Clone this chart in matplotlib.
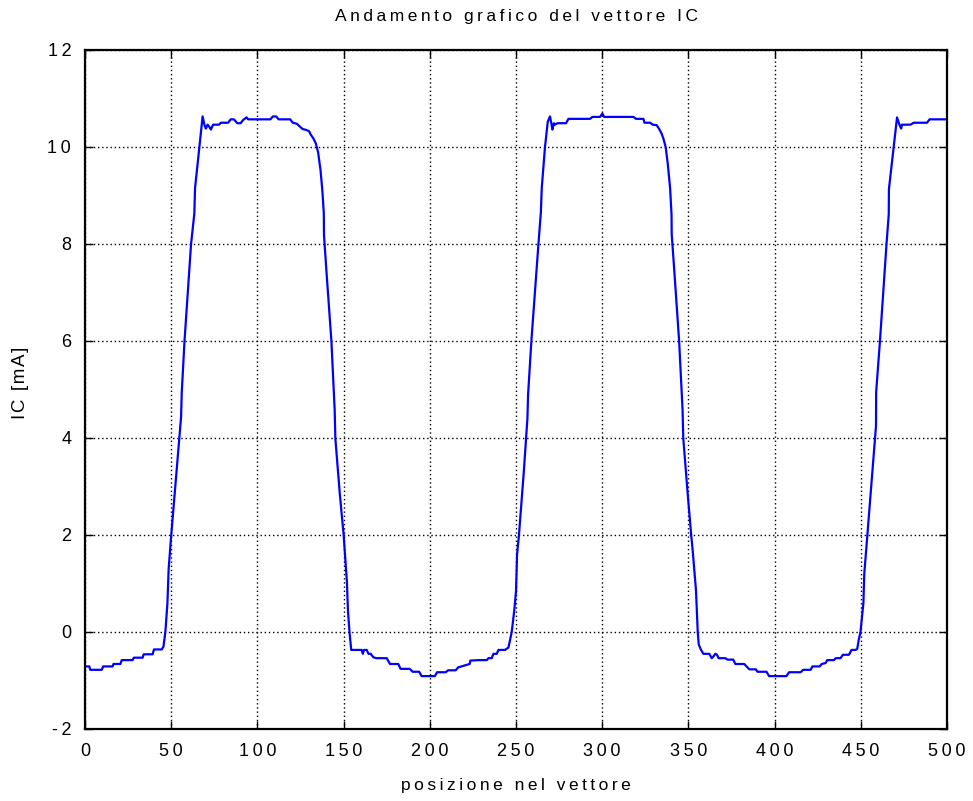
import matplotlib
matplotlib.use("Agg")
import matplotlib.pyplot as plt
from matplotlib.ticker import FixedLocator, FixedFormatter

plt.rcParams['font.family'] = ['Liberation Sans', 'DejaVu Sans']

# posizione nel vettore / IC [mA]
pos = [0, 2.5, 3, 9.7, 10.5, 16, 16.5, 20.5, 21.3, 27.6, 28.3, 33.4, 34, 39.2, 40, 44.5,
       45.5, 46.6, 47.8, 48.5, 50, 52.9, 55.7, 56.1, 57.7, 61.5, 63.4, 63.8, 66.3, 68.2,
       69.3, 70.1, 71.1, 72, 73, 74.3, 77.8, 78.7, 83, 84.5, 86.4, 88.3, 90.2, 91.8, 93.7,
       94.6, 107.5, 109, 110.9, 112.3, 119, 120.5, 122.8, 124.7, 126.2, 128.5, 130.1, 130.8,
       132.4, 133.9, 135.2, 136.6, 137.7, 138.5, 138.6, 140, 142.9, 144.8, 145.2, 147.7, 150,
       151.9, 152.5, 153.4, 154.4, 160.5, 161.1, 161.8, 163.4, 164.4, 165.7, 167.2, 168.8,
       175, 176.9, 181.7, 183, 188.4, 190, 193.8, 195.2, 202.9, 204.2, 209.2, 210.6, 215,
       216.4, 220.2, 223.1, 223.5, 228.5, 233, 234, 235.9, 236.9, 238.8, 239.8, 243.6,
       245.6, 247.5, 249, 250, 250.6, 251.7, 254.5, 256.6, 257, 258.9, 263, 264.4, 264.9,
       266.8, 268.4, 269.7, 270.7, 271.1, 272, 272.6, 274, 279, 280.4, 292.9, 294.3, 298.7,
       300.1, 301.1, 318.1, 319.6, 323.9, 324.5, 327.8, 329.3, 331.6, 333.2, 334.5, 335.5,
       336.8, 338, 339.4, 340.2, 340.3, 341.8, 344.6, 346.6, 347, 349.5, 351.6, 352.5, 354.4,
       355.4, 356, 357.3, 358.7, 362.1, 363.5, 364.6, 365.6, 366.6, 367.5, 371.4, 372.7, 376,
       377.2, 382.4, 383.7, 385.3, 389.1, 390.1, 395.3, 396.8, 406.8, 408.4, 415.1, 416.5,
       420.9, 421.9, 426.1, 427.3, 429.6, 430.5, 434.4, 435.4, 438.2, 439.6, 443.1, 444.6,
       446.9, 447.9, 448.8, 449.8, 451.5, 452, 453.8, 458.2, 458.8, 458.9, 461.1, 464.9,
       466.2, 466.3, 469.1, 471, 472.4, 473.4, 473.9, 478.8, 480.7, 488.4, 489.9, 500]
ic = [-0.71, -0.71, -0.78, -0.78, -0.71, -0.71, -0.66, -0.66, -0.58, -0.58, -0.53, -0.53,
      -0.46, -0.46, -0.36, -0.36, -0.3, 0, 0.6, 1.3, 2, 3.25, 4.43, 4.94, 6, 8, 8.63, 9.15,
      10, 10.63, 10.45, 10.38, 10.46, 10.42, 10.36, 10.46, 10.46, 10.5, 10.5, 10.57, 10.57,
      10.49, 10.49, 10.56, 10.61, 10.57, 10.57, 10.63, 10.63, 10.57, 10.57, 10.5, 10.48,
      10.42, 10.37, 10.35, 10.32, 10.26, 10.18, 10.07, 9.89, 9.52, 9.08, 8.63, 8.19, 7.45,
      6, 4.58, 3.99, 2.88, 2, 1.03, 0.44, 0, -0.37, -0.37, -0.45, -0.37, -0.37, -0.45, -0.45,
      -0.52, -0.54, -0.54, -0.66, -0.66, -0.76, -0.76, -0.82, -0.82, -0.91, -0.91, -0.83,
      -0.83, -0.79, -0.79, -0.73, -0.69, -0.66, -0.59, -0.58, -0.58, -0.54, -0.54, -0.45,
      -0.45, -0.37, -0.37, -0.32, 0, 0.45, 0.85, 1.6, 2.0, 3.3, 4.4, 4.9, 6.0, 8.0, 8.65,
      9.14, 10, 10.52, 10.63, 10.45, 10.36, 10.49, 10.46, 10.49, 10.49, 10.58, 10.58, 10.62,
      10.62, 10.69, 10.62, 10.62, 10.58, 10.58, 10.5, 10.5, 10.46, 10.45, 10.36, 10.27,
      10.17, 10, 9.66, 9.14, 8.6, 8.2, 7.45, 6, 4.58, 4, 2.88, 2, 1.67, 0.85, 0, -0.26,
      -0.37, -0.45, -0.45, -0.54, -0.5, -0.45, -0.47, -0.54, -0.54, -0.57, -0.57, -0.66,
      -0.66, -0.71, -0.77, -0.77, -0.82, -0.82, -0.91, -0.91, -0.83, -0.83, -0.78, -0.78,
      -0.71, -0.71, -0.66, -0.64, -0.58, -0.58, -0.54, -0.54, -0.47, -0.47, -0.37, -0.37,
      -0.35, -0.16, 0, 0.6, 1.2, 2, 4, 4.25, 4.95, 6, 8, 8.61, 9.13, 10, 10.61,
      10.46, 10.38, 10.46, 10.46, 10.5, 10.5, 10.57, 10.57]

xticks = [0, 50, 100, 150, 200, 250, 300, 350, 400, 450, 500]
yticks = [-2, 0, 2, 4, 6, 8, 10, 12]


def spaced(s, sep='\u2009'):
    # lettere un po' distanziate come nell'originale
    return sep.join(s)


fig = plt.figure(figsize=(9.73, 8.01), dpi=100)
ax = fig.add_axes([0.0874, 0.0899, 0.8859, 0.8477])

ax.plot(pos, ic, color='#0000ff', lw=1.6)

ax.set_xlim(0, 500)
ax.set_ylim(-2, 12)
ax.xaxis.set_major_locator(FixedLocator(xticks))
ax.xaxis.set_major_formatter(FixedFormatter([spaced(str(t)) for t in xticks]))
ax.yaxis.set_major_locator(FixedLocator(yticks))
ax.yaxis.set_major_formatter(FixedFormatter([spaced(str(t)) for t in yticks]))

ax.grid(True, color='black', linestyle=(0, (1, 2)), lw=1)
ax.tick_params(direction='in', length=6, width=1, top=True, right=True,
               labelsize=13, pad=10)
for sp in ax.spines.values():
    sp.set_linewidth(1.6)

ax.set_title(spaced('Andamento grafico del vettore IC'), fontsize=12.5, pad=21)
ax.set_xlabel(spaced('posizione nel vettore'), fontsize=12.5, labelpad=13)
ax.set_ylabel(spaced('IC [mA]', '\u200a'), fontsize=13.5)
ax.yaxis.set_label_coords(-0.065, 0.51)

fig.savefig('out.png', dpi=100)
